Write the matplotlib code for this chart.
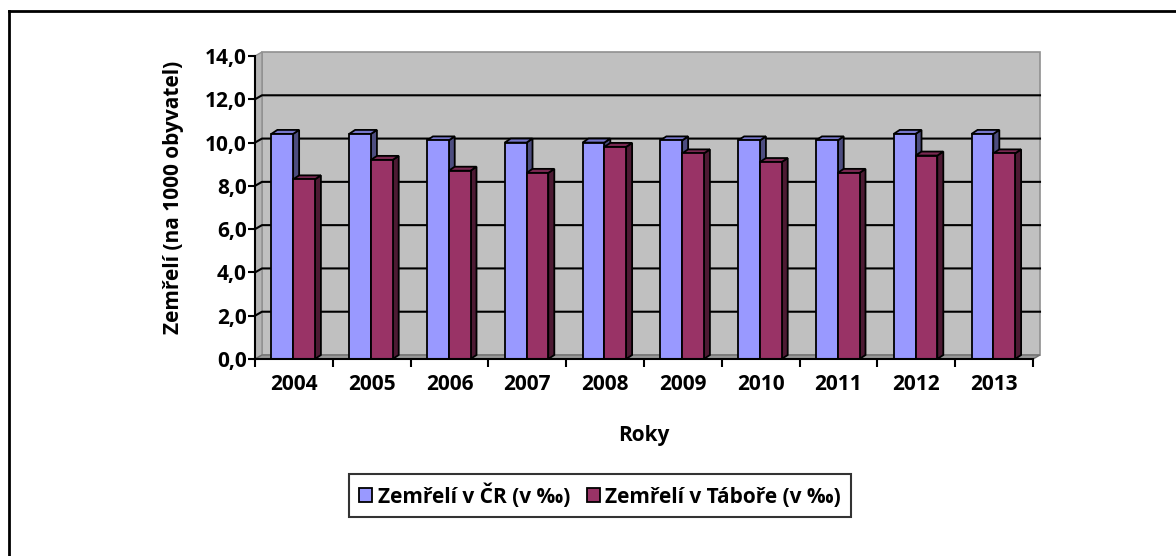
import matplotlib
matplotlib.use("Agg")
import matplotlib.pyplot as plt
from matplotlib.patches import Polygon, Patch
from matplotlib.lines import Line2D

plt.rcParams['font.family'] = ['Open Sans', 'DejaVu Sans']
plt.rcParams['font.weight'] = 'bold'

years = ['2004', '2005', '2006', '2007', '2008', '2009', '2010', '2011', '2012', '2013']
cr_values = [10.4, 10.4, 10.1, 10.0, 10.0, 10.1, 10.1, 10.1, 10.4, 10.4]
tabor_values = [8.3, 9.2, 8.7, 8.6, 9.8, 9.5, 9.1, 8.6, 9.4, 9.5]
series_names = ['Zemřelí v ČR (v ‰)', 'Zemřelí v Táboře (v ‰)']
y_ticks = [0, 2, 4, 6, 8, 10, 12, 14]
y_label = 'Zemřelí (na 1000 obyvatel)'
x_label = 'Roky'

FS = 15
W, H = 1176, 556
fig = plt.figure(figsize=(W / 100, H / 100), dpi=100)
fig.patch.set_facecolor('white')

# front plane of the plot in pixels
L, R, B, T = 255, 1033, 359, 56
ax = fig.add_axes([L / W, (H - B) / H, (R - L) / W, (B - T) / H])
ax.set_xlim(0, len(years))
ax.set_ylim(0, 14)
ax.patch.set_visible(False)

px_x = (R - L) / len(years)
px_y = (B - T) / 14.0
# wall depth and bar depth (pixels -> data)
wdx, wdy = 7 / px_x, 4 / px_y
bdx, bdy = 6 / px_x, 4 / px_y

n = len(years)
wall_c = '#C0C0C0'
wall_e = '#909090'
# back wall
ax.add_patch(Polygon([(wdx, wdy), (n + wdx, wdy), (n + wdx, 14 + wdy), (wdx, 14 + wdy)],
                     closed=True, facecolor=wall_c, edgecolor=wall_e, lw=1.2, zorder=0, clip_on=False))
# left side wall
ax.add_patch(Polygon([(0, 0), (wdx, wdy), (wdx, 14 + wdy), (0, 14)],
                     closed=True, facecolor='#B4B4B4', edgecolor=wall_e, lw=1.0, zorder=0, clip_on=False))
# floor
ax.add_patch(Polygon([(0, 0), (n, 0), (n + wdx, wdy), (wdx, wdy)],
                     closed=True, facecolor='#989898', edgecolor='#707070', lw=1.0, zorder=0.5, clip_on=False))
# gridlines
for t in y_ticks[1:-1]:
    ax.plot([0, wdx, n + wdx], [t, t + wdy, t + wdy], color='black', lw=1.5, zorder=1, clip_on=False)

bw = 0.28
x0 = 0.21
front_cols = ['#9999FF', '#993366']
top_cols = ['#7777CC', '#7A2952']
side_cols = ['#4D4D80', '#4D1A33']
idx = list(range(n))
for s, vals in enumerate([cr_values, tabor_values]):
    xs = [i + x0 + s * bw for i in idx]
    for i in idx:
        z = 2 + i * 0.01 + s * 0.005
        x = xs[i]
        h = vals[i]
        ax.add_patch(Polygon([(x + bw, 0), (x + bw + bdx, bdy), (x + bw + bdx, h + bdy), (x + bw, h)],
                             closed=True, facecolor=side_cols[s], edgecolor='black', lw=1.3, zorder=z, clip_on=False))
        ax.add_patch(Polygon([(x, h), (x + bw, h), (x + bw + bdx, h + bdy), (x + bdx, h + bdy)],
                             closed=True, facecolor=top_cols[s], edgecolor='black', lw=1.3, zorder=z, clip_on=False))
    bars = ax.bar(xs, vals, width=bw, align='edge', color=front_cols[s], edgecolor='black',
                  linewidth=1.3, zorder=2)
    for i, b in enumerate(bars):
        b.set_zorder(2 + i * 0.01 + s * 0.005 + 0.001)

# axes spines / ticks
for sp in ['top', 'right']:
    ax.spines[sp].set_visible(False)
for sp in ['left', 'bottom']:
    ax.spines[sp].set_color('black')
    ax.spines[sp].set_linewidth(1.5)
    ax.spines[sp].set_zorder(5)
ax.set_yticks(y_ticks)
ax.set_yticklabels([f'{v:.1f}'.replace('.', ',') for v in y_ticks], fontsize=FS, fontweight='bold')
ax.tick_params(axis='y', direction='out', length=5, width=1.5, pad=1)
ax.set_xticks(range(n + 1))
ax.set_xticklabels([''] * (n + 1))
ax.set_xticks([i + 0.5 for i in idx], minor=True)
ax.set_xticklabels(years, minor=True, fontsize=FS, fontweight='bold')
ax.tick_params(axis='x', which='major', direction='out', length=6, width=1.5)
ax.tick_params(axis='x', which='minor', length=0, pad=11)

fig.text(644 / W, 1 - 436 / H, x_label, ha='center', va='center', fontsize=FS, fontweight='bold')
fig.text(173 / W, 1 - 197 / H, y_label, ha='center', va='center', rotation=90, fontsize=FS, fontweight='bold')

handles = [Patch(facecolor=front_cols[0], edgecolor='black', lw=1.3),
           Patch(facecolor=front_cols[1], edgecolor='black', lw=1.3)]
leg = fig.legend(handles, series_names, loc='center', bbox_to_anchor=(600 / W, 1 - 495.5 / H),
                 ncol=2, frameon=True, fancybox=False, handlelength=0.65, handleheight=0.65,
                 handletextpad=0.25, columnspacing=0.8, borderpad=0.45, borderaxespad=0,
                 prop={'weight': 'bold', 'size': FS})
leg.get_frame().set_edgecolor('black')
leg.get_frame().set_linewidth(1.5)

# outer border (top and left, cut on right and bottom)
fig.add_artist(Line2D([8.5 / W, 1], [1 - 10.5 / H, 1 - 10.5 / H], color='black', lw=2, transform=fig.transFigure))
fig.add_artist(Line2D([8.5 / W, 8.5 / W], [1 - 10.5 / H, 0], color='black', lw=2, transform=fig.transFigure))

fig.savefig('out.png', dpi=100, facecolor='white')
